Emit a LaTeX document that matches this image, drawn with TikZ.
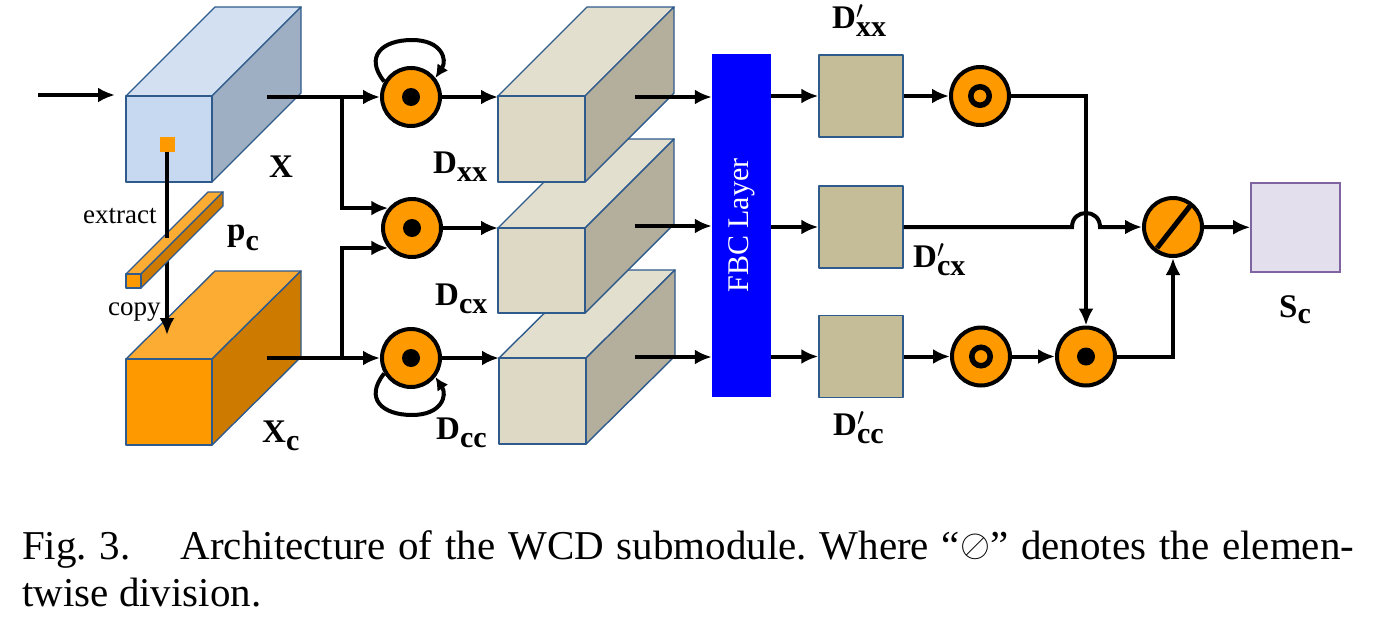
\documentclass[tikz,border=0pt]{standalone}
\usepackage{fontspec}
\setmainfont{Liberation Serif}
\usetikzlibrary{arrows.meta,calc}
\definecolor{edgeblue}{HTML}{2F5A8C}
\definecolor{bluefront}{HTML}{C6D9F0}
\definecolor{bluetop}{HTML}{D2E0F2}
\definecolor{blueside}{HTML}{9EAFC3}
\definecolor{orfront}{HTML}{FF9900}
\definecolor{ortop}{HTML}{FCAB33}
\definecolor{orside}{HTML}{CC7A00}
\definecolor{bgfront}{HTML}{DDD9C4}
\definecolor{bgtop}{HTML}{E3DFCE}
\definecolor{bgside}{HTML}{B4AE9C}
\definecolor{tanbox}{HTML}{C4BD97}
\definecolor{scfill}{HTML}{E4DFEC}
\definecolor{scedge}{HTML}{8064A2}
\definecolor{fbcblue}{HTML}{0000FF}
\newcommand{\lf}{\fontsize{33}{33}\selectfont\bfseries}
\newcommand{\sbs}[3][-8pt]{#2\raisebox{#1}{\fontsize{30}{30}\selectfont #3}}
\newcommand{\psbs}[1]{D\rlap{$^{\prime}$}\raisebox{-8pt}{\fontsize{30}{30}\selectfont #1}}
\newcommand{\divsym}{\raisebox{2.5pt}{\scalebox{1.55}{$\oslash$}}}
\newcommand{\cuboid}[8]{%
  \filldraw[face, fill=#6top] (#2,#3) -- ++(#7,#8) -- ++({#4-#2},0) -- (#4,#3) -- cycle;
  \filldraw[face, fill=#6side] (#4,#3) -- ++(#7,#8) -- ++(0,{#5-#3}) -- (#4,#5) -- cycle;
  \node[face, fill=#6front, inner sep=0pt, outer sep=0pt, minimum width={#4-#2}, minimum height={#5-#3}] (#1) at ({(#2+#4)/2},{(#3+#5)/2}) {};
}
\frenchspacing
\begin{document}
\begin{tikzpicture}[x=1pt,y=-1pt,
  face/.style={draw=edgeblue, line width=1.4pt, line join=round},
  op/.style={circle, draw=black, line width=4pt, fill=orfront, minimum size=58pt, inner sep=0pt},
  arr/.style={line width=4pt, -{Latex[length=17pt,width=15pt]}},
  looparr/.style={line width=4pt, -{Latex[length=13pt,width=13pt]}},
  conn/.style={line width=4pt},
  lab/.style={font=\lf, inner sep=0pt, anchor=base west},
  smalllab/.style={font=\fontsize{27}{27}\selectfont, inner sep=0pt, anchor=base west},
  sqbox/.style={face, fill=tanbox, minimum width=84pt, minimum height=82pt, inner sep=0pt}]
\fill[white] (0,0) rectangle (1376,616);
\path[use as bounding box] (0,0) rectangle (1376,616);

% cuboids
\cuboid{Xb}{126}{96}{212}{182}{blue}{89}{-89}
\cuboid{Xcb}{126}{359}{212}{445}{or}{89}{-88}
\cuboid{B3}{499}{358}{586}{444}{bg}{89}{-88}
\cuboid{B2}{498}{228}{585}{313}{bg}{89}{-89}
\cuboid{B1}{498}{96}{585}{182}{bg}{89}{-89}

% extract / copy
\node[fill=orfront, minimum size=15pt, inner sep=0pt] (sq) at (167,144) {};
\coordinate (copyend) at (167,335);
\coordinate (exttop) at (167,238);
\draw[arr] (sq.south) -- (copyend);
\cuboid{pcb}{126}{274}{141}{288}{or}{82}{-82}
\draw[conn] (sq.south) -- (exttop);

% operator circles
\node[op] (c1) at (411,97) {};
\node[op] (c2) at (412,228) {};
\node[op] (c3) at (411,358) {};
\node[op] (c4) at (980,96) {};
\node[op] (c5) at (981,356.5) {};
\node[op] (c6) at (1086,356.5) {};
\node[op] (dv) at (1173,227) {};
\fill (c1) circle[radius=9pt];
\fill (c2) circle[radius=9pt];
\fill (c3) circle[radius=9pt];
\fill (c6) circle[radius=9pt];
\draw[line width=5.5pt] (c4) circle[radius=9.25pt];
\draw[line width=5.5pt] (c5) circle[radius=9.25pt];
\draw[line width=5pt] ($(dv)+(-16,21)$) -- ($(dv)+(17,-21)$);

% FBC, squares, Sc
\node[fill=fbcblue, minimum width=59pt, minimum height=343pt, inner sep=0pt] (fbc) at (741.5,225.5) {};
\node[rotate=90, text=white, font=\fontsize{30}{30}\selectfont, inner sep=0pt] (fbct) at (fbc.center) {FBC Layer};
\node[sqbox] (q1) at (861,96) {};
\node[sqbox] (q2) at (861,227) {};
\node[sqbox] (q3) at (861,356.5) {};
\node[draw=scedge, line width=1.6pt, fill=scfill, minimum size=89pt, inner sep=0pt] (sc) at (1295.5,227.5) {};

% connectors
\coordinate (inA) at (38,95);
\coordinate (inB) at (115,95);
\coordinate (xo) at (267,97);
\coordinate (xco) at (267,358);
\coordinate (j1) at (342,97);
\coordinate (j2) at (342,358);
\coordinate (bo1) at (635,97);
\coordinate (bo2) at (635,226);
\coordinate (bo3) at (635,357);
\draw[arr] (inA) -- (inB);
\draw[arr] (xo) -- (c1);
\draw[arr] (xco) -- (c3);
\draw[arr] (j1) |- (c2.140);
\draw[arr] (j2) |- (c2.220);
\draw[looparr] (c1.150) .. controls +(-20,-25) and +(-30,0) .. ($(c1.center)+(1,-57)$) .. controls +(30,0) and +(12,-18) .. (c1.38);
\draw[looparr] (c3.210) .. controls +(-20,25) and +(-30,0) .. ($(c3.center)+(1,57)$) .. controls +(30,0) and +(12,18) .. (c3.-38);
\draw[arr] (c1) -- (c1 -| B1.west);
\draw[arr] (c2) -- (c2 -| B2.west);
\draw[arr] (c3) -- (c3 -| B3.west);
\draw[arr] (bo1) -- (bo1 -| fbc.west);
\draw[arr] (bo2) -- (bo2 -| fbc.west);
\draw[arr] (bo3) -- (bo3 -| fbc.west);
\draw[arr] (q1.west -| fbc.east) -- (q1.west);
\draw[arr] (q2.west -| fbc.east) -- (q2.west);
\draw[arr] (q3.west -| fbc.east) -- (q3.west);
\draw[arr] (q1.east) -- (c4.west);
\draw[arr] (c4) -| (c6);
\draw[arr] (q2.east) -- ($(c6 |- q2.east)+(-14,0)$) .. controls +(0,-18.7) and +(0,-18.7) .. ($(c6 |- q2.east)+(14,0)$) -- (dv);
\draw[arr] (q3.east) -- (c5.west);
\draw[arr] (c5.east) -- (c6.west);
\draw[arr] (c6) -| (dv);
\draw[arr] (dv) -- (sc);

% labels
\node[smalllab] (lext) at (83,223) {extract};
\node[smalllab] (lcopy) at (108,315) {copy};
\node[lab] (lX) at (269,177) {X};
\node[lab] (lXc) at (262,442) {\sbs{X}{c}};
\node[lab] (lpc) at (227,240) {\sbs[-10pt]{p}{c}};
\node[lab] (lDxx) at (433,173) {\sbs{D}{xx}};
\node[lab] (lDcx) at (435,305) {\sbs{D}{cx}};
\node[lab] (lDcc) at (436,439) {\sbs{D}{cc}};
\node[lab] (lPxx) at (832,28) {\psbs{xx}};
\node[lab] (lPcx) at (913,267) {\psbs{cx}};
\node[lab] (lPcc) at (833,435) {\psbs{cc}};
\node[lab] (lSc) at (1279,317) {\sbs[-6pt]{S}{c}};

% caption
\node[anchor=base west, inner sep=0pt, font=\fontsize{41}{47}\selectfont] (cap1) at (22,559) {\makebox[1332pt][s]{Fig. 3.\hspace{50pt}Architecture of the WCD submodule. Where “\divsym” denotes the elemen-}};
\node[anchor=base west, inner sep=0pt, font=\fontsize{41}{47}\selectfont] (cap2) at (22,606) {twise division.};
\end{tikzpicture}
\end{document}
